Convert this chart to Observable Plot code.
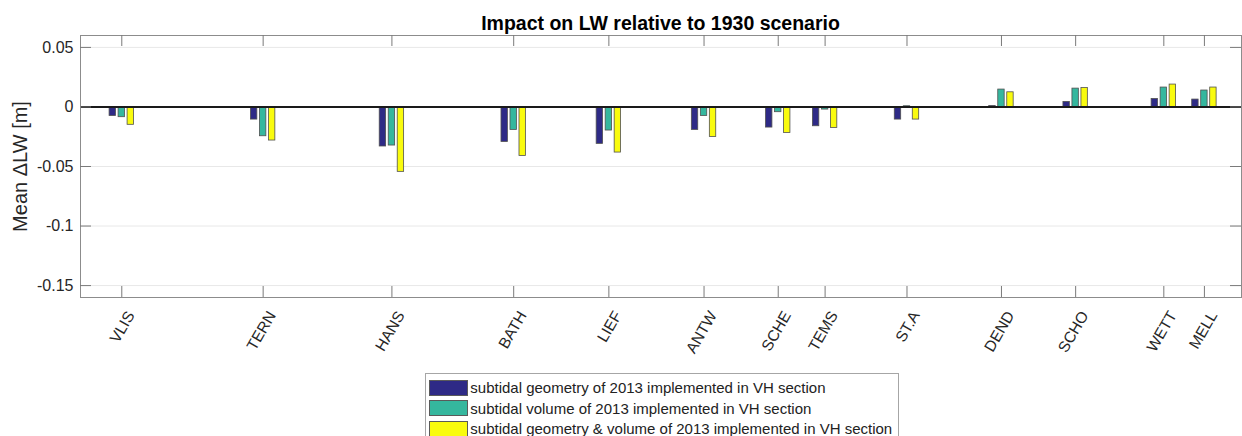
<!DOCTYPE html>
<html>
<head>
<meta charset="utf-8">
<script src="https://cdn.jsdelivr.net/npm/d3@7"></script>
<script src="https://cdn.jsdelivr.net/npm/@observablehq/plot@0.6"></script>
<style>
  html, body { margin: 0; padding: 0; background: #fff; overflow: hidden; }
  body { width: 1242px; font-family: "Liberation Sans", Arial, sans-serif; }
  #title { box-sizing: border-box; height: 30px; padding-top: 11.5px; line-height: 22px;
           margin-left: 80px; width: 1161px; text-align: center; font-weight: bold;
           font-size: 19.5px; color: #000; overflow: visible; white-space: nowrap; }
  #chart svg { display: block; }
  #legend { box-sizing: border-box; margin-left: 425px; margin-top: 4.7px; width: 474px;
            border: 1px solid #a6a6a6; background: #fff; padding: 3.6px 0 4px 3.3px; }
  .row { display: flex; align-items: center; height: 20.5px; font-size: 15px; color: #222; white-space: nowrap; }
  .sw { box-sizing: border-box; width: 38.5px; height: 16px; border: 1px solid #5a5a5a; margin-right: 2.5px; }
</style>
</head>
<body>
<div id="title">Impact on LW relative to 1930 scenario</div>
<div id="chart"></div>
<div id="legend"></div>
<script>
// Stations along the estuary (approx. distance, km) and values (m)
const stations  = ["VLIS","TERN","HANS","BATH","LIEF","ANTW","SCHE","TEMS","ST.A","DEND","SCHO","WETT","MELL"];
const stationKm = [0, 20.2, 38.6, 56.0, 69.6, 83.2, 93.8, 100.5, 112.2, 125.7, 136.3, 148.9, 154.7];
const geom2013    = [-0.0076, -0.0106, -0.0332, -0.0294, -0.0310, -0.0193, -0.0173, -0.0162, -0.0106, 0.0008, 0.0042, 0.0067, 0.0062];
const volume2013  = [-0.0086, -0.0246, -0.0324, -0.0193, -0.0198, -0.0076, -0.0044, -0.0022, 0.0006, 0.0146, 0.0154, 0.0163, 0.0138];
const geomVol2013 = [-0.0150, -0.0282, -0.0545, -0.0411, -0.0383, -0.0252, -0.0218, -0.0176, -0.0106, 0.0123, 0.0159, 0.0188, 0.0163];
const seriesNames = [
  "subtidal geometry of 2013 implemented in VH section",
  "subtidal volume of 2013 implemented in VH section",
  "subtidal geometry & volume of 2013 implemented in VH section"
];
const seriesColors = ["#2e2a86", "#35b79e", "#f9fb0e"];
const yTicks = [-0.15, -0.1, -0.05, 0, 0.05];

const idx = stations.map((_, i) => i);
const seriesValues = [geom2013, volume2013, geomVol2013];
const offsets = [-9, 0, 9];

const barMarks = seriesValues.map((vals, s) =>
  Plot.rect(idx, {
    x1: i => stationKm[i], x2: i => stationKm[i],
    y1: 0, y2: i => vals[i],
    insetLeft: -3.2, insetRight: -3.2, dx: offsets[s],
    fill: seriesColors[s], stroke: "#505050", strokeWidth: 0.8
  })
);

const chart = Plot.plot({
  width: 1242, height: 338,
  marginTop: 5, marginBottom: 71, marginLeft: 80, marginRight: 1,
  style: { fontFamily: "Liberation Sans, Arial, sans-serif", fontSize: "16px", color: "#262626", background: "#fff" },
  x: { type: "linear", domain: [-5.9, 160], axis: null },
  y: { domain: [-0.16, 0.06], axis: null },
  marks: [
    Plot.gridY(yTicks, { stroke: "#e8e8e8", strokeOpacity: 1 }),
    ...barMarks,
    Plot.ruleY([0], { stroke: "#1a1a1a", strokeWidth: 2 }),
    Plot.frame({ stroke: "#8c8c8c" }),
    // inward tick marks (MATLAB box style)
    Plot.tickX(idx, { x: i => stationKm[i], insetBottom: 251, stroke: "#7a7a7a" }),
    Plot.tickX(idx, { x: i => stationKm[i], insetTop: 251, stroke: "#7a7a7a" }),
    Plot.tickY(yTicks, { y: d => d, insetRight: 1150, stroke: "#7a7a7a" }),
    Plot.tickY(yTicks, { y: d => d, insetLeft: 1150, stroke: "#7a7a7a" }),
    Plot.axisY(yTicks, { tickSize: 0, tickPadding: 7, fontSize: 16, label: null,
      tickFormat: d => String(Math.round(d * 100) / 100), fill: "#262626" }),
    Plot.text(idx, { x: i => stationKm[i], text: i => stations[i], frameAnchor: "bottom",
      rotate: -60, textAnchor: "end", lineAnchor: "middle", dx: 9, dy: 15,
      fontSize: 15.5, fill: "#262626" }),
    Plot.text(["Mean \u0394LW [m]"], { frameAnchor: "left", rotate: -90, textAnchor: "middle",
      lineAnchor: "bottom", dx: -53.3, fontSize: 20, fill: "#262626" })
  ]
});
document.getElementById("chart").appendChild(chart);

const legend = document.getElementById("legend");
seriesNames.forEach((name, s) => {
  const row = document.createElement("div");
  row.className = "row";
  const sw = document.createElement("div");
  sw.className = "sw";
  sw.style.background = seriesColors[s];
  const t = document.createElement("span");
  t.textContent = name;
  row.appendChild(sw);
  row.appendChild(t);
  legend.appendChild(row);
});
</script>
</body>
</html>
